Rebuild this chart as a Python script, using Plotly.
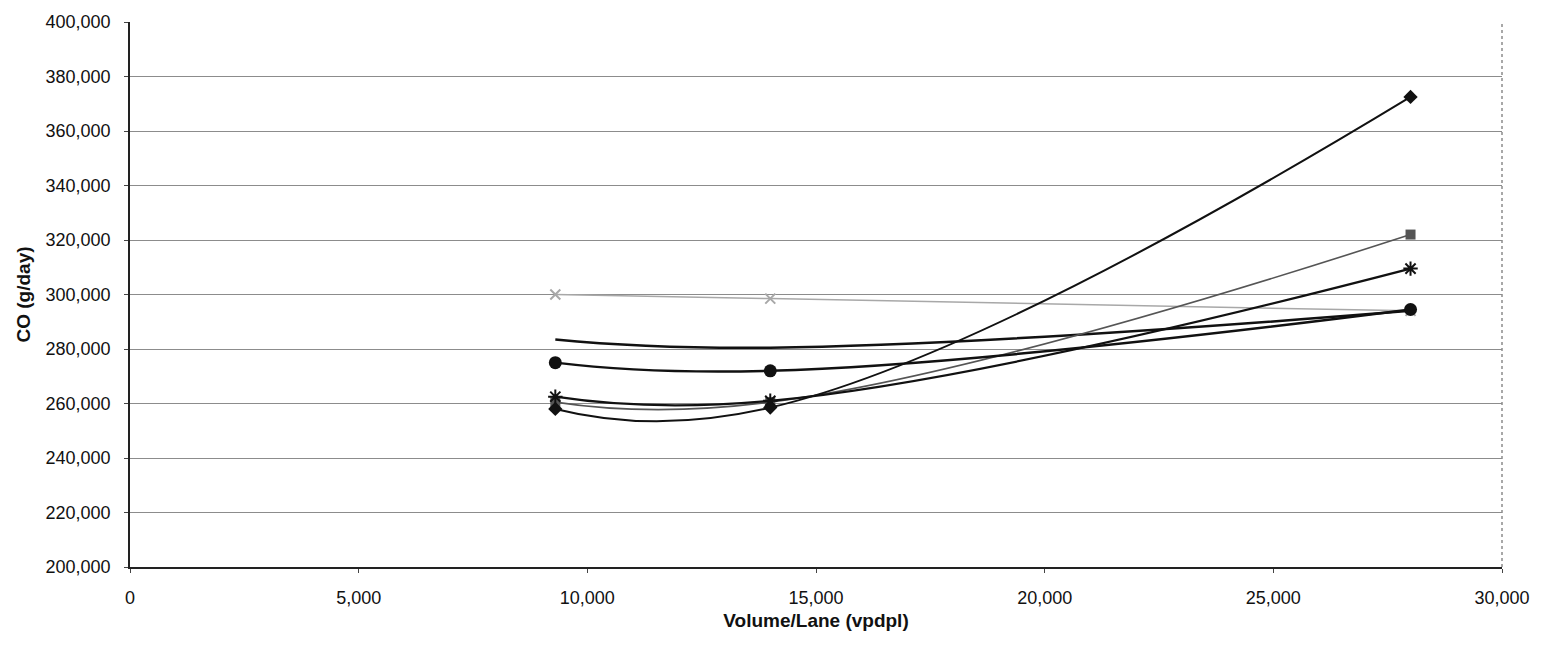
import plotly.graph_objects as go

volume = [9300, 14000, 28000]

co_diamond = [258000, 258500, 372500]
co_square = [260500, 260500, 322000]
co_star = [262500, 261000, 309500]
co_circle = [275000, 272000, 294500]
co_x = [300000, 298500, 294000]
co_plain = [283500, 280500, 294000]

x_ticks = [0, 5000, 10000, 15000, 20000, 25000, 30000]
y_ticks = [200000, 220000, 240000, 260000, 280000, 300000, 320000, 340000, 360000, 380000, 400000]

fig = go.Figure()

def add(y, symbol, color, width, msize, mline=None, mode="lines+markers"):
    marker = dict(symbol=symbol, size=msize, color=color)
    if mline is not None:
        marker["line"] = dict(color=mline, width=2)
    fig.add_trace(go.Scatter(
        x=volume, y=y, mode=mode,
        line=dict(color=color, width=width, shape="spline", smoothing=1.3),
        marker=marker, showlegend=False, hoverinfo="x+y",
    ))

add(co_x, "x-thin-open", "#a8a8a8", 1.5, 10, mline="#a8a8a8")
add(co_plain, "circle", "#111111", 2.5, 1, mode="lines")
add(co_square, "square", "#555555", 1.6, 10)
add(co_star, "asterisk-open", "#111111", 2.2, 12, mline="#111111")
add(co_circle, "circle", "#111111", 2.5, 13)
add(co_diamond, "diamond", "#111111", 2.0, 11)

font_family = "Liberation Sans, Arial, sans-serif"

fig.update_layout(
    width=1543, height=649,
    margin=dict(l=130, r=41, t=18, b=82),
    paper_bgcolor="white", plot_bgcolor="white",
    font=dict(family=font_family, size=18, color="#111111"),
    xaxis=dict(
        range=[0, 30000], tickvals=x_ticks, tickformat=",d",
        showgrid=False, zeroline=False,
        showline=True, linecolor="#222222", linewidth=1.5,
        ticks="outside", ticklen=4, tickcolor="#444444",
        ticklabelstandoff=10,
        title=dict(text="<b>Volume/Lane (vpdpl)</b>", font=dict(size=19), standoff=6),
        mirror=False,
    ),
    yaxis=dict(
        range=[200000, 400000], tickvals=y_ticks, tickformat=",d",
        showgrid=True, gridcolor="#8c8c8c", gridwidth=1,
        zeroline=False,
        showline=True, linecolor="#222222", linewidth=1.5,
        ticks="outside", ticklen=4, tickcolor="#444444",
        ticklabelstandoff=10,
        title=dict(text="<b>CO (g/day)</b>", font=dict(size=19), standoff=10),
    ),
    shapes=[
        dict(type="line", xref="paper", yref="paper", x0=1, x1=1, y0=0, y1=1,
             line=dict(color="#8c8c8c", width=1.5, dash="dot")),
    ],
)

fig.write_html("out.html")
